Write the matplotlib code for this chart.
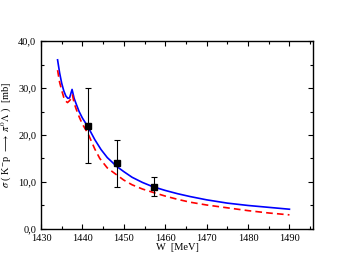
import matplotlib
matplotlib.use("Agg")
import matplotlib.pyplot as plt
from matplotlib.ticker import MultipleLocator, FuncFormatter

blue_w = [1434.0, 1434.5, 1435.0, 1435.5, 1436.0, 1436.5, 1436.9, 1437.5, 1438.0, 1438.5, 1439.2, 1440.0, 1441.3, 1443.0, 1444.5, 1446.0, 1448.3, 1450.0, 1452.0, 1454.5, 1457.0, 1460.0, 1463.0, 1466.0, 1470.0, 1475.0, 1480.0, 1485.0, 1490.0]
blue_s = [36.0, 33.2, 31.0, 29.4, 28.3, 27.8, 27.9, 29.7, 27.8, 26.6, 25.0, 23.6, 21.8, 19.0, 16.9, 15.2, 13.3, 12.2, 11.0, 9.9, 9.0, 8.2, 7.5, 6.9, 6.2, 5.5, 5.0, 4.6, 4.2]

red_w = [1434.0, 1434.5, 1435.0, 1435.5, 1436.0, 1436.4, 1437.0, 1437.6, 1438.0, 1438.5, 1439.2, 1440.0, 1441.3, 1443.0, 1444.2, 1446.0, 1448.3, 1450.0, 1452.0, 1454.5, 1457.0, 1460.0, 1463.0, 1466.0, 1470.0, 1475.0, 1480.0, 1485.0, 1490.0]
red_s = [33.8, 31.2, 29.5, 28.0, 27.2, 26.9, 27.4, 28.5, 26.8, 25.5, 23.9, 22.3, 20.4, 17.0, 15.0, 13.0, 11.5, 10.4, 9.4, 8.5, 7.8, 7.0, 6.3, 5.7, 5.1, 4.5, 3.9, 3.4, 3.0]

data_w = [1441.3, 1448.3, 1457.2]
data_s = [22.0, 14.0, 9.0]
err_lo = [8.0, 5.0, 2.0]
err_hi = [8.0, 5.0, 2.0]

plt.rcParams['font.family'] = ['Liberation Serif', 'DejaVu Serif']
plt.rcParams['mathtext.fontset'] = 'stix'

fig = plt.figure(figsize=(3.49, 2.70), dpi=100)
ax = fig.add_axes([0.1175, 0.152, 0.7795, 0.696])

ax.plot(blue_w, blue_s, color='#0000ff', lw=1.2)
ax.plot(red_w, red_s, color='#ff0000', lw=1.2, ls=(0, (4, 2.5)))
ax.errorbar(data_w, data_s, yerr=[err_lo, err_hi], fmt='s', color='black',
            ms=4.5, ecolor='black', elinewidth=0.8, capsize=2.5, capthick=0.8)

ax.set_xlim(1430, 1495.7)
ax.set_ylim(0, 40)
ax.xaxis.set_major_locator(MultipleLocator(10))
ax.xaxis.set_minor_locator(MultipleLocator(5))
ax.yaxis.set_major_locator(MultipleLocator(10))
ax.yaxis.set_minor_locator(MultipleLocator(5))
ax.yaxis.set_major_formatter(FuncFormatter(lambda v, p: f"{v:.1f}".replace('.', ',')))
ax.tick_params(which='both', direction='in', top=True, right=True, labelsize=7.5)
ax.tick_params(which='major', length=3.5, width=0.8)
ax.tick_params(which='minor', length=2, width=0.8)
for s in ax.spines.values():
    s.set_linewidth(1.0)

ax.set_xlabel('W  [MeV]', fontsize=7.5, labelpad=0)
ax.set_ylabel(r'$\sigma$ ( K$^{-}$p $\longrightarrow$ $\pi^{0}\Lambda$ )  [mb]', fontsize=7.5, labelpad=3)

fig.savefig('out.png', dpi=100)
